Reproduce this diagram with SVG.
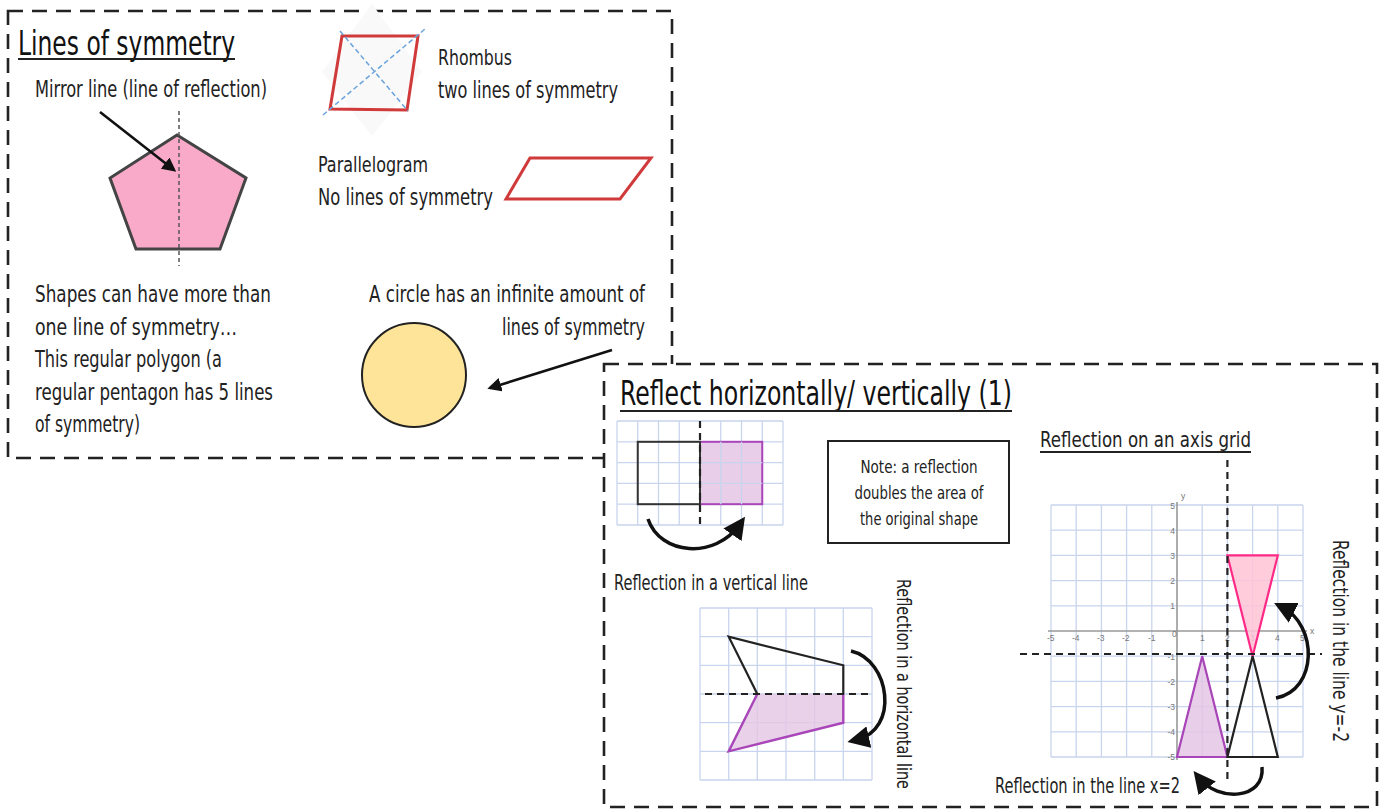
<svg xmlns="http://www.w3.org/2000/svg" width="1380" height="810" viewBox="0 0 1380 810">
<defs>
<style>
.t{font-family:"Liberation Sans Narrow","DejaVu Sans Condensed","Liberation Sans",sans-serif;fill:#222;}
.body{font-size:23px;}
.title{font-size:33px;fill:#111;}
.panel{fill:#fff;stroke:#222;stroke-width:2.6;stroke-dasharray:15 9;}
.grid{stroke:#c9d5ee;stroke-width:1.3;fill:none;}
.dash{stroke:#222;stroke-width:2.2;stroke-dasharray:7 5;fill:none;}
.arr{stroke:#111;stroke-width:2.6;fill:none;}
.carr{stroke:#111;stroke-width:3.5;fill:none;}
.tick{font-family:"Liberation Sans",sans-serif;font-size:8.5px;fill:#777;}
.ul{stroke:#222;stroke-width:1.8;}
</style>
<marker id="head" viewBox="0 0 10 10" refX="8" refY="5" markerWidth="14" markerHeight="14" markerUnits="userSpaceOnUse" orient="auto"><path d="M0,0 L10,5 L0,10 z" fill="#111"/></marker>
<marker id="bighead" viewBox="0 0 10 10" refX="6" refY="5" markerWidth="22" markerHeight="22" markerUnits="userSpaceOnUse" orient="auto"><path d="M0,0 L10,5 L0,10 z" fill="#111"/></marker>
</defs>

<g id="panel-lines-of-symmetry">
<rect class="panel" x="8" y="11" width="664" height="447"/>
<text class="t title" x="18" y="55" textLength="217" lengthAdjust="spacingAndGlyphs">Lines of symmetry</text>
<line class="ul" x1="18" y1="59" x2="235" y2="59"/>
</g>

<g id="pentagon">
<text class="t body" x="35" y="97" textLength="232" lengthAdjust="spacingAndGlyphs">Mirror line (line of reflection)</text>
<polygon points="177,135 246,178 220,249 136,249 110,178" fill="#f9aac8" stroke="#444" stroke-width="3"/>
<line x1="179" y1="111" x2="179" y2="266" stroke="#555" stroke-width="1.5" stroke-dasharray="4 3"/>
</g>

<g id="rhombus">
<polygon points="372,4 422,72 372,136 322,72" fill="#f9f9f9"/>
<polygon points="342,36 418,36 407,110 330,109" fill="none" stroke="#d03a3a" stroke-width="3"/>
<line x1="340" y1="31" x2="408" y2="111" stroke="#6aa3dc" stroke-width="1.5" stroke-dasharray="5 3"/>
<line x1="323" y1="115" x2="425" y2="29" stroke="#6aa3dc" stroke-width="1.5" stroke-dasharray="5 3"/>
<text class="t" x="438" y="65" font-size="22" fill="#111" textLength="74" lengthAdjust="spacingAndGlyphs">Rhombus</text>
<text class="t body" x="438" y="98" textLength="180" lengthAdjust="spacingAndGlyphs">two lines of symmetry</text>
</g>

<g id="parallelogram">
<polygon points="530,158 651,158 620,199 506,199" fill="none" stroke="#d03a3a" stroke-width="3"/>
<text class="t" x="318" y="172" font-size="22" fill="#111" textLength="110" lengthAdjust="spacingAndGlyphs">Parallelogram</text>
<text class="t body" x="318" y="205" textLength="175" lengthAdjust="spacingAndGlyphs">No lines of symmetry</text>
</g>

<g id="polygon-note">
<text class="t body" x="35" y="302" textLength="236" lengthAdjust="spacingAndGlyphs">Shapes can have more than</text>
<text class="t body" x="35" y="335" textLength="202" lengthAdjust="spacingAndGlyphs">one line of symmetry…</text>
<text class="t body" x="35" y="367" textLength="187" lengthAdjust="spacingAndGlyphs">This regular polygon (a</text>
<text class="t body" x="35" y="400" textLength="238" lengthAdjust="spacingAndGlyphs">regular pentagon has 5 lines</text>
<text class="t body" x="35" y="432" textLength="105" lengthAdjust="spacingAndGlyphs">of symmetry)</text>
</g>

<g id="circle">
<circle cx="414" cy="375" r="52" fill="#fde499" stroke="#222" stroke-width="2"/>
<text class="t body" x="645" y="302" text-anchor="end" textLength="276" lengthAdjust="spacingAndGlyphs">A circle has an infinite amount of</text>
<text class="t body" x="645" y="335" text-anchor="end" textLength="143" lengthAdjust="spacingAndGlyphs">lines of symmetry</text>
</g>

<g id="panel-reflect">
<rect class="panel" x="604" y="364" width="773" height="443"/>
<text class="t title" x="620" y="405" font-size="34" textLength="392" lengthAdjust="spacingAndGlyphs">Reflect horizontally/ vertically (1)</text>
<line class="ul" x1="620" y1="411" x2="1012" y2="411"/>
</g>

<g id="vertical-reflection">
<path class="grid" d="M617,421V525M637.75,421V525M658.5,421V525M679.25,421V525M720.75,421V525M741.5,421V525M762.25,421V525M783,421V525M617,421H783M617,441.8H783M617,462.6H783M617,483.4H783M617,504.2H783M617,525H783"/>
<rect x="700" y="441.8" width="62.25" height="62.4" fill="#e4c6e4" fill-opacity="0.85" stroke="#a845b8" stroke-width="2"/>
<path class="grid" d="M720.75,441.8V504.2M741.5,441.8V504.2M700,462.6H762.25M700,483.4H762.25" stroke="#eee" />
<rect x="637.75" y="441.8" width="62.25" height="62.4" fill="none" stroke="#333" stroke-width="2"/>
<line class="dash" x1="700" y1="421" x2="700" y2="525"/>
<text class="t" x="614" y="590" font-size="21" textLength="194" lengthAdjust="spacingAndGlyphs">Reflection in a vertical line</text>
</g>

<g id="note-box">
<rect x="828" y="441" width="181" height="102" fill="#fff" stroke="#222" stroke-width="2"/>
<text class="t" x="919" y="473" font-size="18" text-anchor="middle" textLength="117" lengthAdjust="spacingAndGlyphs">Note: a reflection</text>
<text class="t" x="919" y="499" font-size="18" text-anchor="middle" textLength="129" lengthAdjust="spacingAndGlyphs">doubles the area of</text>
<text class="t" x="919" y="525" font-size="18" text-anchor="middle" textLength="118" lengthAdjust="spacingAndGlyphs">the original shape</text>
</g>

<g id="horizontal-reflection">
<path class="grid" d="M700,608V780M728.7,608V780M757.3,608V780M786,608V780M814.7,608V780M843.3,608V780M872,608V780M700,608H872M700,636.7H872M700,665.3H872M700,694H872M700,722.7H872M700,751.3H872M700,780H872"/>
<polygon points="757.3,694 843.3,694 843.3,722.7 728.7,751.3" fill="#e4c6e4" fill-opacity="0.8"/>
<polyline points="843.3,694 843.3,722.7 728.7,751.3 757.3,694" fill="none" stroke="#a845b8" stroke-width="2.4"/>
<polyline points="757.3,694 728.7,636.7 843.3,665.3 843.3,694" fill="none" stroke="#222" stroke-width="2.2"/>
<line class="dash" x1="705" y1="694" x2="873" y2="694" stroke-width="2.6"/>
<text class="t" transform="translate(897,579) rotate(90)" font-size="20" textLength="210" lengthAdjust="spacingAndGlyphs">Reflection in a horizontal line</text>
</g>

<g id="axis-grid">
<text class="t" x="1040" y="447" font-size="21" textLength="211" lengthAdjust="spacingAndGlyphs">Reflection on an axis grid</text>
<line class="ul" x1="1040" y1="452" x2="1251" y2="452"/>
<path class="grid" d="M1051,505V757M1076.2,505V757M1101.4,505V757M1126.6,505V757M1151.8,505V757M1202.2,505V757M1227.4,505V757M1252.6,505V757M1277.8,505V757M1303,505V757M1051,505H1303M1051,530.2H1303M1051,555.4H1303M1051,580.6H1303M1051,605.8H1303M1051,656.2H1303M1051,681.4H1303M1051,706.6H1303M1051,731.8H1303M1051,757H1303"/>
<line x1="1177" y1="502" x2="1177" y2="760" stroke="#999" stroke-width="1.6"/>
<line x1="1048" y1="631" x2="1307" y2="631" stroke="#999" stroke-width="1.6"/>
<text class="tick" x="1181" y="499">y</text>
<text class="tick" x="1310" y="634">x</text>
<text class="tick" x="1047" y="641">-5</text>
<text class="tick" x="1072" y="641">-4</text>
<text class="tick" x="1097" y="641">-3</text>
<text class="tick" x="1122" y="641">-2</text>
<text class="tick" x="1148" y="641">-1</text>
<text class="tick" x="1172" y="637">0</text>
<text class="tick" x="1200" y="641">1</text>
<text class="tick" x="1225" y="641">2</text>
<text class="tick" x="1250" y="641">3</text>
<text class="tick" x="1275" y="641">4</text>
<text class="tick" x="1300" y="641">5</text>
<text class="tick" x="1175" y="509" text-anchor="end">5</text>
<text class="tick" x="1175" y="534" text-anchor="end">4</text>
<text class="tick" x="1175" y="559" text-anchor="end">3</text>
<text class="tick" x="1175" y="584" text-anchor="end">2</text>
<text class="tick" x="1175" y="609" text-anchor="end">1</text>
<text class="tick" x="1175" y="660" text-anchor="end">-1</text>
<text class="tick" x="1175" y="685" text-anchor="end">-2</text>
<text class="tick" x="1175" y="710" text-anchor="end">-3</text>
<text class="tick" x="1175" y="735" text-anchor="end">-4</text>
<text class="tick" x="1175" y="760" text-anchor="end">-5</text>
<polygon points="1227.4,555.4 1277.8,555.4 1252.6,656.2" fill="#ffc3d6" fill-opacity="0.85" stroke="#ff2a86" stroke-width="2.2"/>
<polygon points="1202.2,656.2 1177,757 1227.4,757" fill="#e4c6e4" fill-opacity="0.85" stroke="#a845b8" stroke-width="2.2"/>
<polygon points="1252.6,656.2 1227.4,757 1277.8,757" fill="none" stroke="#222" stroke-width="2.2"/>
<line class="dash" x1="1227.4" y1="460" x2="1227.4" y2="782" stroke-width="2.4"/>
<line class="dash" x1="1020" y1="654" x2="1322" y2="654" stroke-width="2.4"/>
<text class="t" x="995" y="793" font-size="21" textLength="185" lengthAdjust="spacingAndGlyphs">Reflection in the line x=2</text>
<text class="t" transform="translate(1333,540) rotate(90)" font-size="21" textLength="202" lengthAdjust="spacingAndGlyphs">Reflection in the line y=-2</text>
</g>

<g id="connectors">
<line class="arr" x1="100" y1="112" x2="174" y2="170" marker-end="url(#head)"/>
<line class="arr" x1="612" y1="350" x2="490" y2="388" marker-end="url(#head)"/>
<path class="carr" d="M648,519 C660,555 715,560 740,524" marker-end="url(#bighead)"/>
<path class="carr" d="M851,651 C890,660 900,730 856,740" marker-end="url(#bighead)"/>
<path class="carr" d="M1276,698 C1318,690 1318,625 1282,607" marker-end="url(#bighead)"/>
<path class="carr" d="M1262,767 C1265,800 1218,802 1199,778" marker-end="url(#bighead)"/>
</g>
</svg>
